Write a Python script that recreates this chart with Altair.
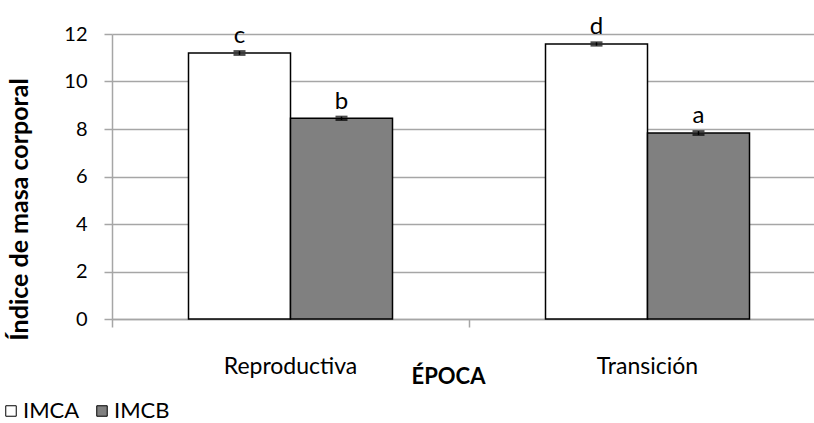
import altair as alt
import pandas as pd

epoca = ["Reproductiva", "Reproductiva", "Transición", "Transición"]
serie = ["IMCA", "IMCB", "IMCA", "IMCB"]
valor = [11.2, 8.45, 11.58, 7.83]
error = [0.08, 0.07, 0.07, 0.08]
letra = ["c", "b", "d", "a"]
y_ticks = [0, 2, 4, 6, 8, 10, 12]

df = pd.DataFrame({"epoca": epoca, "serie": serie, "valor": valor, "error": error, "letra": letra})
df["lo"] = df["valor"] - df["error"]
df["hi"] = df["valor"] + df["error"]

FONT = "Lato"
GRID = "#a6a6a6"

x_enc = alt.X(
    "epoca:N",
    sort=["Reproductiva", "Transición"],
    scale=alt.Scale(range=[0, 714], paddingInner=0, paddingOuter=0),
    axis=alt.Axis(
        title="ÉPOCA", bandPosition=0, labelOffset=0, labelAngle=0,
        labelFont=FONT, labelFontSize=23, labelColor="#000000",
        labelBaseline="alphabetic", labelPadding=46,
        titleFont=FONT, titleFontSize=22, titleFontWeight="bold", titleColor="#000000",
        titleX=336, titleY=64, titleBaseline="alphabetic", titleAnchor="start", titleAlign="center",
        tickSize=8, tickColor=GRID, tickWidth=1.5, domainColor=GRID, domainWidth=1.5,
    ),
)
xo_enc = alt.XOffset("serie:N", sort=["IMCA", "IMCB"], scale=alt.Scale(paddingOuter=0.75, paddingInner=0))
y_scale = alt.Scale(domain=[0, 12], nice=False)

bars = alt.Chart(df).mark_bar(stroke="#000000", strokeWidth=1.5).encode(
    x=x_enc,
    xOffset=xo_enc,
    y=alt.Y(
        "valor:Q", scale=y_scale,
        axis=alt.Axis(
            values=y_ticks, title="Índice de masa corporal", grid=True, gridColor=GRID, gridWidth=1.5,
            labelFont=FONT, labelFontSize=20, labelColor="#000000", labelPadding=17,
            titleFont=FONT, titleFontSize=25, titleFontWeight="bold", titleColor="#000000",
            titleX=-85, titleY=175, titleBaseline="alphabetic", titleAngle=-90, titleAlign="center",
            tickSize=8, tickColor=GRID, tickWidth=1.5, domainColor=GRID, domainWidth=1.5,
        ),
    ),
    color=alt.Color(
        "serie:N",
        scale=alt.Scale(domain=["IMCA", "IMCB"], range=["#ffffff", "#808080"]),
        legend=alt.Legend(
            title=None, orient="none", legendX=-112, legendY=366, direction="horizontal",
            symbolType="square", symbolSize=110, symbolStrokeColor="#000000", symbolStrokeWidth=1,
            labelFont=FONT, labelFontSize=22, labelColor="#000000", labelOffset=1,
            columnPadding=11, padding=0,
        ),
    ),
)

rules = alt.Chart(df).mark_rule(color="#000000", strokeWidth=1.5).encode(
    x=x_enc, xOffset=xo_enc, y=alt.Y("lo:Q", scale=y_scale), y2="hi:Q"
)
caps_hi = alt.Chart(df).mark_tick(color="#000000", thickness=2, size=12, orient="horizontal").encode(
    x=x_enc, xOffset=xo_enc, y=alt.Y("hi:Q", scale=y_scale)
)
caps_lo = alt.Chart(df).mark_tick(color="#000000", thickness=2, size=12, orient="horizontal").encode(
    x=x_enc, xOffset=xo_enc, y=alt.Y("lo:Q", scale=y_scale)
)
letters = alt.Chart(df).mark_text(font=FONT, fontSize=24, baseline="alphabetic", dy=-8, color="#000000").encode(
    x=x_enc, xOffset=xo_enc, y=alt.Y("hi:Q", scale=y_scale), text="letra:N"
)

chart = alt.layer(bars, rules, caps_hi, caps_lo, letters).properties(
    width=702, height=285,
    autosize=alt.AutoSizeParams(type="none"),
    padding={"left": 112, "top": 34, "right": 0, "bottom": 104},
).configure_view(stroke=None)

chart.save("out.html", embed_options={"renderer": "svg", "actions": False})
